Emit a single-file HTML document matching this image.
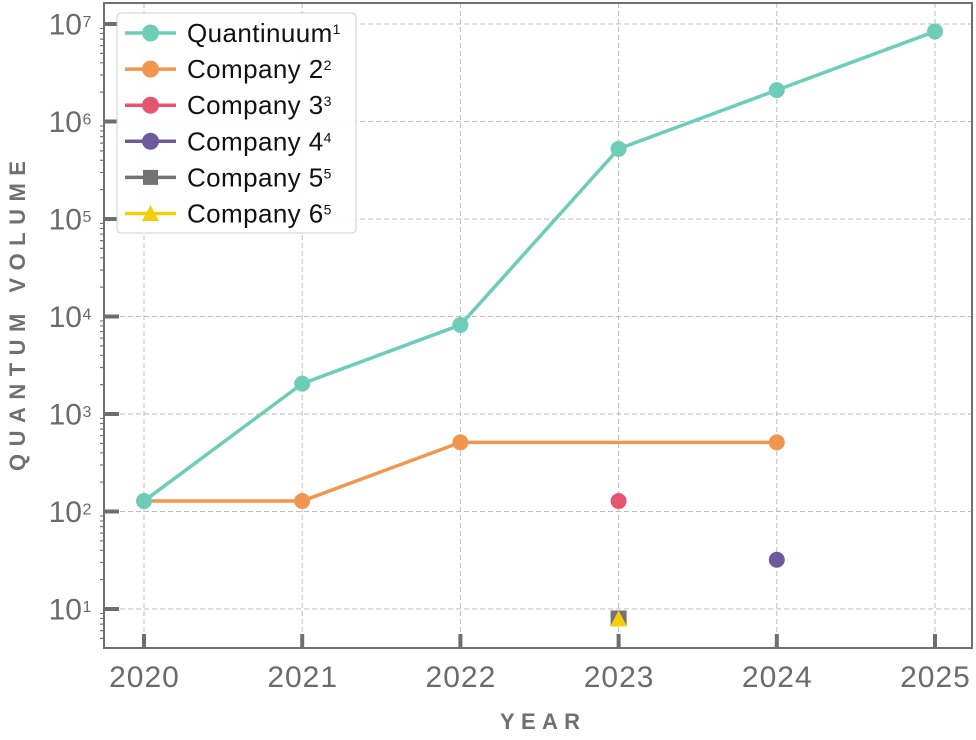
<!DOCTYPE html>
<html><head><meta charset="utf-8"><style>
html,body{margin:0;padding:0;background:#fff;}
svg{display:block;font-family:"Liberation Sans",sans-serif;}
</style></head><body>
<svg width="976" height="740" viewBox="0 0 976 740" xmlns="http://www.w3.org/2000/svg">
<rect width="976" height="740" fill="#fff"/>
<!-- grid -->
<g stroke="#bdbdbd" stroke-width="1" stroke-dasharray="5,3" fill="none">
<path d="M104 24H972M104 121.5H972M104 219H972M104 316.5H972M104 414H972M104 511.5H972M104 609H972"/>
<path d="M144 3V648M302.2 3V648M460.4 3V648M618.6 3V648M776.8 3V648M935 3V648"/>
</g>
<!-- minor ticks -->
<g stroke="#777" stroke-width="1.2" fill="none">
<path d="M100 638.35h4M100 630.63h4M100 624.1h4M100 618.45h4M100 613.46h4
M100 579.65h4M100 562.48h4M100 550.3h4M100 540.85h4M100 533.13h4M100 526.6h4M100 520.95h4M100 515.96h4
M100 482.15h4M100 464.98h4M100 452.8h4M100 443.35h4M100 435.63h4M100 429.1h4M100 423.45h4M100 418.46h4
M100 384.65h4M100 367.48h4M100 355.3h4M100 345.85h4M100 338.13h4M100 331.6h4M100 325.95h4M100 320.96h4
M100 287.15h4M100 269.98h4M100 257.8h4M100 248.35h4M100 240.63h4M100 234.1h4M100 228.45h4M100 223.46h4
M100 189.65h4M100 172.48h4M100 160.3h4M100 150.85h4M100 143.13h4M100 136.6h4M100 130.95h4M100 125.96h4
M100 92.15h4M100 74.98h4M100 62.8h4M100 53.35h4M100 45.63h4M100 39.1h4M100 33.45h4M100 28.46h4"/>
</g>
<!-- major ticks -->
<g stroke="#6e6e6e" stroke-width="4" fill="none">
<path d="M104 24H119M104 121.5H119M104 219H119M104 316.5H119M104 414H119M104 511.5H119M104 609H119"/>
<path d="M144 634V648M302.2 634V648M460.4 634V648M618.6 634V648M776.8 634V648M935 634V648"/>
</g>
<!-- spines -->
<rect x="104" y="3" width="868" height="645" fill="none" stroke="#707070" stroke-width="2"/>
<!-- y tick labels -->
<g fill="#6b6b6b">
<g font-size="30" text-anchor="end">
<text x="82" y="34.5">10</text><text x="82" y="132">10</text><text x="82" y="229.5">10</text><text x="82" y="327">10</text><text x="82" y="424.5">10</text><text x="82" y="522">10</text><text x="82" y="619.5">10</text>
</g>
<g font-size="16">
<text x="82.5" y="27">7</text><text x="82.5" y="124.5">6</text><text x="82.5" y="222">5</text><text x="82.5" y="319.5">4</text><text x="82.5" y="417">3</text><text x="82.5" y="514.5">2</text><text x="82.5" y="612">1</text>
</g>
<!-- x tick labels -->
<g font-size="30" text-anchor="middle" letter-spacing="1">
<text x="144.5" y="687">2020</text><text x="302.7" y="687">2021</text><text x="460.9" y="687">2022</text><text x="619.1" y="687">2023</text><text x="777.3" y="687">2024</text><text x="935.5" y="687">2025</text>
</g>
</g>
<!-- axis titles -->
<text x="540" y="729" text-anchor="middle" font-size="22" font-weight="bold" fill="#707070" textLength="80" lengthAdjust="spacing">YEAR</text>
<text transform="translate(25,316) rotate(-90)" text-anchor="middle" font-size="22" font-weight="bold" fill="#707070" textLength="310" lengthAdjust="spacing">QUANTUM VOLUME</text>
<!-- series -->
<g fill="none" stroke-width="3.5" stroke-linejoin="round">
<polyline stroke="#f0964f" points="144,501.05 302.2,501.05 460.4,442.34 618.6,442.34 776.8,442.34"/>
<polyline stroke="#6dcdb8" points="144,501.05 302.2,383.65 460.4,324.94 618.6,148.84 776.8,90.14 935,31.44"/>
</g>
<g fill="#f0964f">
<circle cx="302.2" cy="501.05" r="8"/><circle cx="460.4" cy="442.34" r="8"/><circle cx="776.8" cy="442.34" r="8"/>
</g>
<g fill="#6dcdb8">
<circle cx="144" cy="501.05" r="8"/><circle cx="302.2" cy="383.65" r="8"/><circle cx="460.4" cy="324.94" r="8"/><circle cx="618.6" cy="148.84" r="8"/><circle cx="776.8" cy="90.14" r="8"/><circle cx="935" cy="31.44" r="8"/>
</g>
<circle cx="618.6" cy="501.05" r="8" fill="#e5566e"/>
<circle cx="776.8" cy="559.75" r="8" fill="#6e5b9f"/>
<rect x="610.6" y="610.5" width="16" height="16" fill="#737373"/>
<polygon points="618.6,610.5 627,626.5 610.2,626.5" fill="#f5cf0a"/>
<!-- legend -->
<rect x="117" y="13" width="239" height="220" rx="4" fill="#fff" fill-opacity="0.92" stroke="#cfcfcf" stroke-width="1"/>
<g stroke-width="3.5">
<line x1="125" y1="33" x2="176" y2="33" stroke="#6dcdb8"/>
<line x1="125" y1="69.1" x2="176" y2="69.1" stroke="#f0964f"/>
<line x1="125" y1="105.2" x2="176" y2="105.2" stroke="#e5566e"/>
<line x1="125" y1="141.3" x2="176" y2="141.3" stroke="#6e5b9f"/>
<line x1="125" y1="177.4" x2="176" y2="177.4" stroke="#737373"/>
<line x1="125" y1="213.5" x2="176" y2="213.5" stroke="#f5cf0a"/>
</g>
<circle cx="150.5" cy="33" r="8.5" fill="#6dcdb8"/>
<circle cx="150.5" cy="69.1" r="8.5" fill="#f0964f"/>
<circle cx="150.5" cy="105.2" r="8.5" fill="#e5566e"/>
<circle cx="150.5" cy="141.3" r="8.5" fill="#6e5b9f"/>
<rect x="143" y="169.9" width="15" height="15" fill="#737373"/>
<polygon points="150.5,205 159,221 142,221" fill="#f5cf0a"/>
<g fill="#111" font-size="26" letter-spacing="0.4">
<text x="187" y="42">Quantinuum<tspan font-size="14" dy="-8">1</tspan></text>
<text x="187" y="78.1">Company 2<tspan font-size="14" dy="-8">2</tspan></text>
<text x="187" y="114.2">Company 3<tspan font-size="14" dy="-8">3</tspan></text>
<text x="187" y="150.3">Company 4<tspan font-size="14" dy="-8">4</tspan></text>
<text x="187" y="186.4">Company 5<tspan font-size="14" dy="-8">5</tspan></text>
<text x="187" y="222.5">Company 6<tspan font-size="14" dy="-8">5</tspan></text>
</g>
</svg>
</body></html>
